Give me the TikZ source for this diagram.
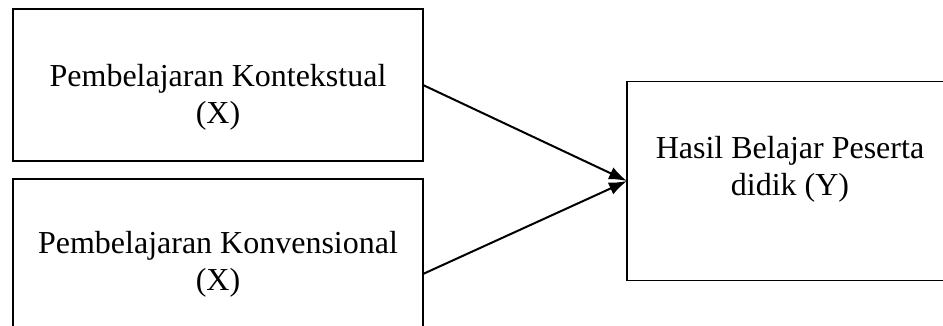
\documentclass[tikz,border=0pt]{standalone}
\usepackage{fontspec}
\setmainfont{Liberation Serif}
\usetikzlibrary{arrows.meta}
\tikzset{
  box/.style={draw, line width=1.9pt, rectangle, inner sep=0pt, outer sep=0pt},
  lbl/.style={align=center, inner sep=0pt, font=\fontsize{32}{37}\selectfont},
  conn/.style={line width=2pt, -{Latex[length=18pt,width=13pt]}}
}
\begin{document}
\begin{tikzpicture}[x=1pt,y=-1pt]
\useasboundingbox (0,0) rectangle (943,326);
\node[box, minimum width=410pt, minimum height=152pt] (ctx) at (218,85) {};
\node[box, minimum width=410pt, minimum height=190pt] (conv) at (218,274) {};
\node[box, minimum width=326pt, minimum height=199pt] (res) at (790,181) {};
\node[lbl] (ctxt) at (218,97) {Pembelajaran Kontekstual\\(X)};
\node[lbl] (convt) at (218,264) {Pembelajaran Konvensional\\(X)};
\node[lbl] (rest) at (790,169) {Hasil Belajar Peserta\\didik (Y)};
\draw[conn] (ctx.east) -- (res.west);
\draw[conn] (conv.east) -- (res.west);
\end{tikzpicture}
\end{document}
